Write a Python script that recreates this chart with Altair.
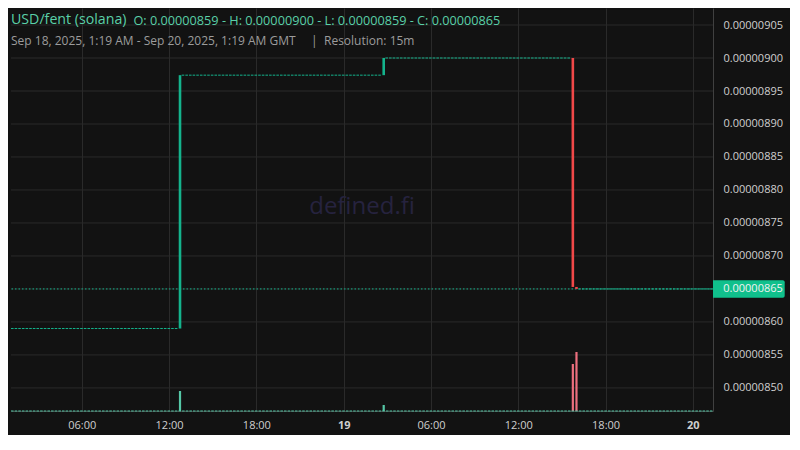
import altair as alt
import pandas as pd

# ---- data ----
candle_time = ["2025-09-18T12:45:00Z", "2025-09-19T02:45:00Z", "2025-09-19T15:45:00Z", "2025-09-19T16:00:00Z"]
candle_open = [8.59e-6, 8.974e-6, 9.00e-6, 8.653e-6]
candle_close = [8.974e-6, 9.00e-6, 8.653e-6, 8.65e-6]
candle_volume = [1000, 300, 2350, 2950]

seg_start = ["2025-09-18T01:08:00Z", "2025-09-18T12:52:00Z", "2025-09-19T02:52:00Z", "2025-09-19T16:08:00Z"]
seg_end = ["2025-09-18T12:38:00Z", "2025-09-19T02:38:00Z", "2025-09-19T15:38:00Z", "2025-09-20T01:23:00Z"]
seg_price = [8.59e-6, 8.974e-6, 9.00e-6, 8.65e-6]

last_price = 8.65e-6
price_ticks = [8.50e-6, 8.55e-6, 8.60e-6, 8.70e-6, 8.75e-6, 8.80e-6, 8.85e-6,
               8.90e-6, 8.95e-6, 9.00e-6, 9.05e-6]
grid_ticks = [8.50e-6, 8.55e-6, 8.60e-6, 8.65e-6, 8.70e-6, 8.75e-6, 8.80e-6, 8.85e-6,
              8.90e-6, 8.95e-6, 9.00e-6, 9.05e-6]
x_start = "2025-09-18T01:08:00Z"
x_end = "2025-09-20T01:23:00Z"
x_tick_times = ["2025-09-18T06:00:00Z", "2025-09-18T12:00:00Z", "2025-09-18T18:00:00Z",
                "2025-09-19T00:00:00Z", "2025-09-19T06:00:00Z", "2025-09-19T12:00:00Z",
                "2025-09-19T18:00:00Z", "2025-09-20T00:00:00Z"]

title_main = "USD/fent (solana)"
title_ohlc = "O: 0.00000859 - H: 0.00000900 - L: 0.00000859 - C: 0.00000865"
subtitle_range = "Sep 18, 2025, 1:19 AM - Sep 20, 2025, 1:19 AM GMT"
subtitle_res = "Resolution: 15m"
watermark = "defined.fi"

# ---- styling ----
UP = "#14b38c"
DOWN = "#f04848"
UP_VOL = "#55c7a6"
DOWN_VOL = "#ec6f7e"
BG = "#121212"
GRID = "#2a2a2a"
LABEL = "#cfcfcf"
FONT = "Open Sans"

to_ms = lambda s: int(pd.Timestamp(s).value // 10**6)

candles = pd.DataFrame({
    "t": candle_time, "open": candle_open, "close": candle_close,
    "volume": candle_volume,
})
candles["dir"] = ["up" if c >= o else "down" for o, c in zip(candle_open, candle_close)]
candles["zero"] = 0
segs = pd.DataFrame({"t0": seg_start, "t1": seg_end, "p": seg_price})
vol_base = pd.DataFrame({"t0": [x_start], "t1": [x_end], "v": [0]})

xscale = alt.Scale(type="utc", domain=[to_ms(x_start), to_ms(x_end)])
pscale = alt.Scale(domain=[8.465e-6, 9.0758e-6], nice=False, zero=False)
vscale = alt.Scale(domain=[0, 20150], nice=False, zero=True)

xaxis = alt.Axis(
    values=[to_ms(t) for t in x_tick_times],
    labelExpr="utchours(datum.value) == 0 ? utcFormat(datum.value, '%-d') : utcFormat(datum.value, '%H:%M')",
    labelFontWeight={"condition": {"test": "utchours(datum.value) == 0", "value": "bold"}, "value": "normal"},
    ticks=False, labelPadding=8, title=None, grid=True,
)
yaxis = alt.Axis(
    orient="right", values=price_ticks, format=".8f", ticks=False,
    labelPadding=10, title=None, grid=False,
)

color_scale = alt.Scale(domain=["up", "down"], range=[UP, DOWN])
vcolor_scale = alt.Scale(domain=["up", "down"], range=[UP_VOL, DOWN_VOL])

base_c = alt.Chart(candles)

# horizontal grid lines at the price ticks
hgrid = alt.Chart(pd.DataFrame({"p": grid_ticks})).mark_rule(color=GRID, strokeWidth=1).encode(
    y=alt.Y("p:Q", scale=pscale, axis=yaxis),
)
# price layers
seg_layer = alt.Chart(segs).mark_rule(color=UP, strokeWidth=1, strokeDash=[2.6, 1.04]).encode(
    x=alt.X("t0:T", scale=xscale, axis=xaxis),
    x2="t1:T",
    y=alt.Y("p:Q", scale=pscale, axis=yaxis),
)
last_line = alt.Chart(pd.DataFrame({"p": [last_price]})).mark_rule(
    color=UP, strokeWidth=1, strokeDash=[1.5, 2]
).encode(
    y=alt.Y("p:Q", scale=pscale, axis=yaxis),
)
body = base_c.mark_rule(strokeWidth=2.6).encode(
    x=alt.X("t:T", scale=xscale, axis=xaxis),
    y=alt.Y("open:Q", scale=pscale, axis=yaxis),
    y2="close:Q",
    color=alt.Color("dir:N", scale=color_scale, legend=None),
)
box = alt.Chart(pd.DataFrame({"p": [last_price]})).mark_rect(
    color="#10c08c", yOffset=-8.8, y2Offset=8.8,
    cornerRadiusTopRight=2, cornerRadiusBottomRight=2,
).encode(
    x=alt.value(702), x2=alt.value(773.7),
    y=alt.Y("p:Q", scale=pscale, axis=yaxis), y2="p:Q",
)
box_text = alt.Chart(pd.DataFrame({"p": [last_price]})).mark_text(
    align="left", baseline="middle", font=FONT, fontSize=11, color="#f2f2f2"
).encode(
    x=alt.value(712.3),
    y=alt.Y("p:Q", scale=pscale, axis=yaxis),
    text=alt.Text("p:Q", format=".8f"),
)

price = alt.layer(hgrid, seg_layer, last_line, body, box, box_text)

# volume layers
vol = base_c.mark_rule(strokeWidth=2.2).encode(
    x=alt.X("t:T", scale=xscale, axis=xaxis),
    y=alt.Y("volume:Q", scale=vscale, axis=None),
    y2="zero:Q",
    color=alt.Color("dir:N", scale=vcolor_scale, legend=None),
)
vol_line = alt.Chart(vol_base).mark_rule(color=UP_VOL, strokeWidth=1, strokeDash=[2.6, 1.04]).encode(
    x=alt.X("t0:T", scale=xscale, axis=xaxis), x2="t1:T",
    y=alt.Y("v:Q", scale=vscale, axis=None),
)
volume = alt.layer(vol, vol_line)

# texts
def txt(s, x, y, size, color, weight="normal", align="left"):
    return alt.Chart(pd.DataFrame({"s": [s]})).mark_text(
        align=align, baseline="middle", font=FONT, fontSize=size,
        color=color, fontWeight=weight,
    ).encode(x=alt.value(x), y=alt.value(y), text="s:N")

texts = alt.layer(
    txt(title_main, 0, 12, 14.2, "#5ad0a8"),
    txt(title_ohlc, 122.5, 12.5, 12.7, "#5ad0a8"),
    txt(subtitle_range, 0, 32.7, 12, "#9c9c9c"),
    txt("|", 300, 32.7, 12, "#9c9c9c"),
    txt(subtitle_res, 313, 32.7, 12, "#9c9c9c"),
    txt(watermark, 351, 199, 24, "#26233f", align="center"),
)

chart = alt.layer(price, volume, texts).resolve_scale(
    y="independent", color="independent"
).properties(
    width=702, height=403, background=BG,
    padding={"left": 2, "top": 0, "right": 5, "bottom": 5},
).configure_view(stroke=None).configure_axis(
    gridColor=GRID, gridWidth=1, domainColor="#404040", domainWidth=1,
    labelColor=LABEL, labelFont=FONT, labelFontSize=11,
)

chart.save("out.html", embed_options={"renderer": "svg", "actions": False})
